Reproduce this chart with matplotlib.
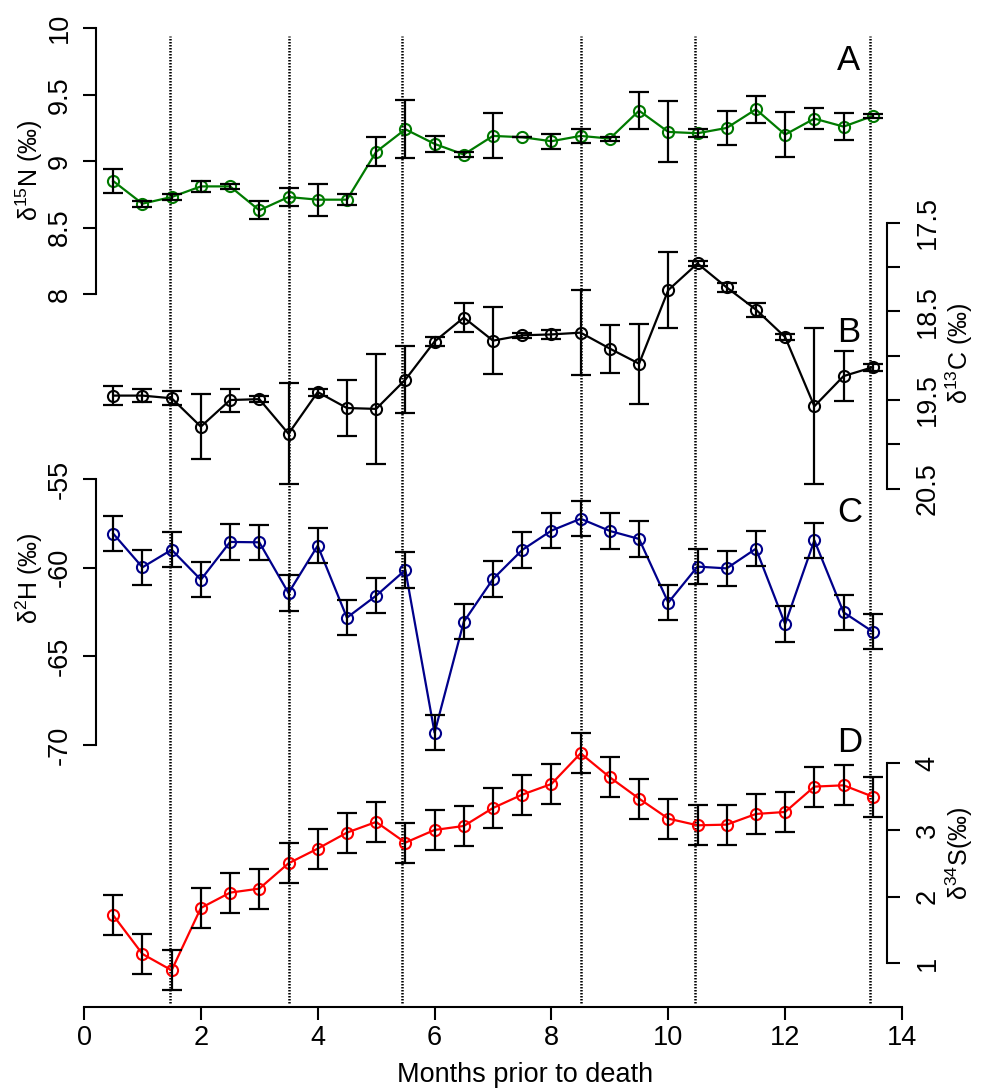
import numpy as np
import matplotlib
matplotlib.use('Agg')
import matplotlib.pyplot as plt

plt.rcParams['font.family'] = ['Liberation Sans', 'DejaVu Sans']
plt.rcParams['mathtext.default'] = 'regular'

# months prior to death (sample positions)
months = np.arange(0.5, 14.0, 0.5)

# A: d15N
d15n = [8.85, 8.68, 8.73, 8.81, 8.81, 8.63, 8.73, 8.71, 8.71, 9.07, 9.24, 9.13, 9.05, 9.19,
        9.18, 9.15, 9.19, 9.17, 9.38, 9.22, 9.21, 9.25, 9.39, 9.20, 9.32, 9.26, 9.34]
d15n_err = [0.09, 0.023, 0.024, 0.041, 0.019, 0.069, 0.069, 0.12, 0.041, 0.109, 0.22, 0.059, 0.02, 0.17,
            0.0, 0.058, 0.051, 0.015, 0.14, 0.23, 0.03, 0.13, 0.10, 0.17, 0.078, 0.099, 0.018]

# B: d13C (shown as positive, inverted axis)
d13c = [19.45, 19.45, 19.48, 19.80, 19.50, 19.49, 19.88, 19.41, 19.59, 19.60, 19.27, 18.84, 18.57, 18.83,
        18.77, 18.76, 18.74, 18.92, 19.09, 18.26, 17.96, 18.23, 18.48, 18.79, 19.57, 19.23, 19.13]
d13c_err = [0.11, 0.07, 0.08, 0.37, 0.13, 0.03, 0.57, 0.04, 0.32, 0.62, 0.38, 0.056, 0.16, 0.38,
            0.03, 0.047, 0.48, 0.27, 0.45, 0.43, 0.025, 0.05, 0.08, 0.03, 0.88, 0.28, 0.04]

# C: d2H
d2h = [-58.08, -59.98, -58.99, -60.68, -58.55, -58.57, -61.43, -58.76, -62.82, -61.58, -60.13, -69.31, -63.05, -60.64,
       -59.00, -57.91, -57.24, -57.93, -58.38, -61.97, -59.94, -60.04, -58.93, -63.18, -58.46, -62.52, -63.61]
d2h_err = [1.0] * 27

# D: d34S
d34s = [1.72, 1.14, 0.895, 1.83, 2.06, 2.12, 2.50, 2.72, 2.96, 3.12, 2.81, 3.00, 3.06, 3.33,
        3.53, 3.69, 4.15, 3.79, 3.47, 3.17, 3.07, 3.08, 3.24, 3.27, 3.65, 3.67, 3.50]
d34s_err = [0.30] * 27

vlines_x = [1.47, 3.5, 5.45, 8.5, 10.45, 13.45]

W, H = 988, 1089
fig = plt.figure(figsize=(W / 100, H / 100), dpi=100)

X0, X1 = 84, 902


def make_ax(top, bottom):
    ax = fig.add_axes([X0 / W, 1 - bottom / H, (X1 - X0) / W, (bottom - top) / H])
    ax.patch.set_alpha(0)
    for s in ax.spines.values():
        s.set_visible(False)
    ax.set_xlim(0, 14)
    ax.set_xticks([])
    return ax


def style_y(ax, side, ticks, labels, pad):
    sp = ax.spines[side]
    sp.set_visible(True)
    sp.set_linewidth(1.5)
    sp.set_position(('data', 0.2 if side == 'left' else 13.75))
    sp.set_bounds(min(ticks), max(ticks))
    if side == 'right':
        ax.yaxis.tick_right()
    else:
        ax.yaxis.tick_left()
    ax.set_yticks(ticks)
    ax.set_yticklabels(labels)
    ax.tick_params(axis='y', direction='out', length=9.5, width=1.5, labelsize=19.5,
                   labelrotation=90, pad=pad)
    for t in ax.get_yticklabels():
        t.set_va('center')


def draw_series(ax, y, err, color):
    ax.plot(months, y, '-o', color=color, mfc='none', ms=8, mew=1.5, lw=1.6,
            clip_on=False, zorder=3)
    eb = ax.errorbar(months, y, yerr=err, fmt='none', ecolor='black', capsize=7.5,
                     elinewidth=1.6, capthick=1.6, zorder=4)
    for art in eb.get_children():
        art.set_clip_on(False)


# base axes: x axis and dotted separators
ax0 = make_ax(36, 1006.7)
ax0.set_ylim(0, 1)
ax0.set_yticks([])
ax0.spines['bottom'].set_visible(True)
ax0.spines['bottom'].set_linewidth(1.5)
ax0.set_xticks(range(0, 15, 2))
ax0.tick_params(axis='x', direction='out', length=9.5, width=1.5, labelsize=19.5, pad=4)
for xv in vlines_x:
    ax0.axvline(xv, ymin=0.004, ymax=1, color='black', lw=1.8, ls=(0, (0.6, 0.6)))

# A
axA = make_ax(28.3, 294)
axA.set_ylim(8, 10)
style_y(axA, 'left', [8, 8.5, 9, 9.5, 10], ['8', '8.5', '9', '9.5', '10'], 7)
draw_series(axA, d15n, d15n_err, '#007a00')

# B
axB = make_ax(222.7, 488.7)
axB.set_ylim(20.5, 17.5)
btick = [17.5, 18, 18.5, 19, 19.5, 20, 20.5]
style_y(axB, 'right', btick, ['17.5', '', '18.5', '', '19.5', '', '20.5'], 10)
draw_series(axB, d13c, d13c_err, 'black')

# C
axC = make_ax(479, 745)
axC.set_ylim(-70, -55)
style_y(axC, 'left', [-70, -65, -60, -55], ['-70', '-65', '-60', '-55'], 7)
draw_series(axC, d2h, d2h_err, '#00008b')

# D
axD = make_ax(763.3, 963.3)
axD.set_ylim(1, 4)
style_y(axD, 'right', [1, 2, 3, 4], ['1', '2', '3', '4'], 10)
draw_series(axD, d34s, d34s_err, 'red')

# panel letters
for letter, px, py in [('A', 848, 60), ('B', 849, 333), ('C', 850, 513), ('D', 850, 742)]:
    fig.text(px / W, 1 - py / H, letter, fontsize=25, ha='center', va='center')

# axis titles
fig.text(29 / W, 1 - 170 / H, 'δ$^{15}$N (‰)', rotation=90, fontsize=18, ha='center', va='center')
fig.text(959 / W, 1 - 353 / H, 'δ$^{13}$C (‰)', rotation=90, fontsize=18, ha='center', va='center')
fig.text(29 / W, 1 - 578 / H, 'δ$^{2}$H (‰)', rotation=90, fontsize=18, ha='center', va='center')
fig.text(959 / W, 1 - 853 / H, 'δ$^{34}$S(‰)', rotation=90, fontsize=18, ha='center', va='center')
fig.text(525 / W, 1 - 1075 / H, 'Months prior to death', fontsize=19.5, ha='center', va='center')

fig.savefig('out.png', dpi=100)
